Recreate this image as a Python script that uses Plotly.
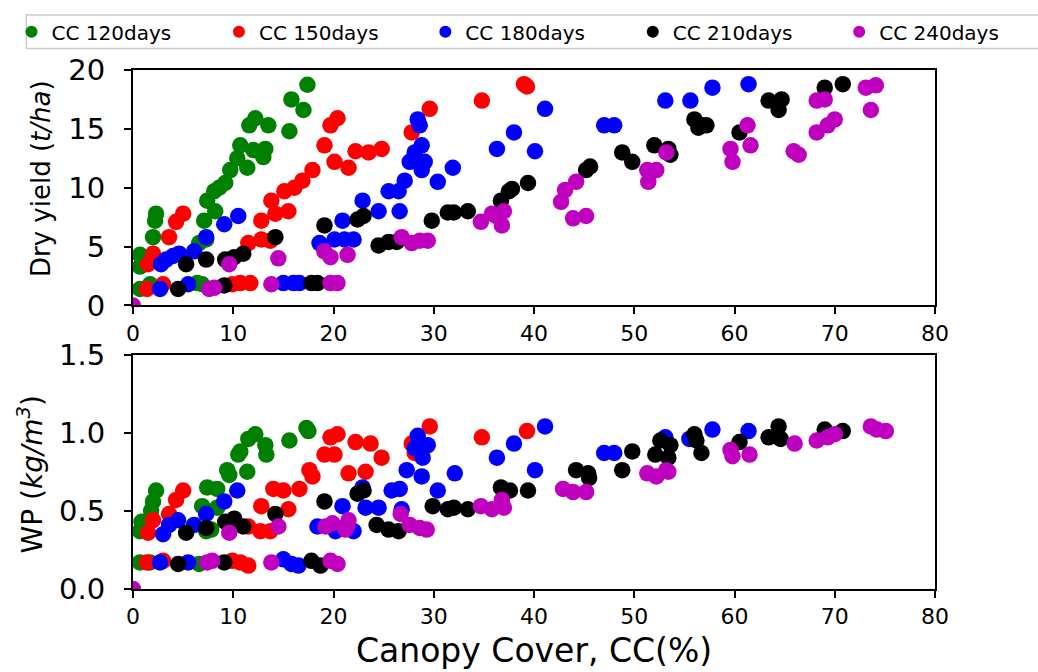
import plotly.graph_objects as go

# ---------------- data ----------------
series_names = ["CC 120days", "CC 150days", "CC 180days", "CC 210days", "CC 240days"]
series_colors = ["#008000", "#ff0000", "#0000ff", "#000000", "#bf00bf"]

# Top panel: canopy cover (%) vs dry yield (t/ha)
cc120_top = [0.7, 0.7, 0.7, 1.7, 2.0, 2.2, 2.3, 6.4, 6.9, 6.6, 7.3, 7.1, 8.2, 7.4, 8.1, 8.6, 9.2, 9.7, 10.4, 10.7, 11.4, 12.0, 13.0, 13.2, 11.6, 12.2, 13.5, 15.6, 15.8, 17.0, 17.4]
yield120 = [4.3, 3.3, 1.4, 1.8, 5.8, 7.2, 7.8, 1.9, 1.8, 5.3, 5.6, 7.2, 8.0, 8.9, 9.7, 10.0, 10.4, 11.5, 12.5, 13.6, 11.7, 13.2, 12.6, 13.3, 15.3, 15.9, 15.3, 14.8, 17.5, 16.6, 18.75]

cc150_top = [1.4, 1.5, 2.0, 3.0, 3.6, 4.3, 5.0, 9.9, 10.7, 11.7, 11.5, 12.8, 13.7, 12.8, 14.2, 15.5, 13.8, 15.1, 16.1, 16.9, 17.9, 19.1, 20.1, 21.5, 22.2, 23.5, 24.8, 19.7, 20.4, 27.8, 29.6, 34.8, 39.0, 39.3]
yield150 = [1.4, 3.5, 4.4, 1.8, 5.8, 7.1, 7.8, 1.8, 1.9, 1.9, 5.3, 5.6, 5.5, 7.2, 7.8, 8.0, 8.9, 9.7, 10.0, 10.6, 11.5, 13.6, 12.2, 11.7, 13.1, 13.0, 13.3, 15.3, 15.9, 14.7, 16.7, 17.4, 18.8, 18.6]

cc180_top = [2.7, 2.8, 3.3, 4.0, 4.6, 5.5, 6.1, 7.3, 9.1, 10.5, 15.0, 16.0, 16.6, 18.6, 20.1, 21.1, 22.0, 20.9, 22.9, 24.5, 26.6, 25.5, 26.5, 27.1, 27.6, 28.1, 28.8, 29.1, 28.8, 28.4, 28.6, 30.4, 31.9, 36.3, 38.0, 40.1, 41.1, 47.0, 48.0, 53.1, 55.6, 57.8, 61.4]
yield180 = [1.4, 3.5, 3.9, 4.2, 4.4, 1.8, 4.6, 5.8, 6.9, 7.6, 1.9, 1.9, 1.9, 5.3, 5.6, 5.6, 5.6, 7.2, 8.9, 8.0, 8.0, 9.7, 9.7, 10.6, 12.2, 13.0, 13.6, 12.2, 11.5, 15.8, 15.3, 10.5, 11.7, 13.3, 14.7, 13.1, 16.7, 15.3, 15.3, 17.4, 17.4, 18.5, 18.8]

cc210_top = [4.5, 5.3, 7.3, 9.1, 9.2, 10.1, 11.0, 14.2, 17.8, 18.4, 19.1, 22.4, 23.0, 24.5, 25.5, 26.3, 29.8, 31.4, 32.0, 33.4, 36.7, 37.5, 37.8, 39.4, 45.2, 45.6, 48.8, 49.8, 52.0, 53.4, 53.6, 56.0, 56.4, 56.7, 57.2, 60.5, 63.4, 64.7, 64.4, 69.0, 70.8]
yield210 = [1.4, 3.5, 3.9, 1.7, 3.9, 4.1, 4.4, 5.8, 1.9, 1.9, 6.8, 7.3, 7.6, 5.1, 5.4, 5.4, 7.2, 7.9, 7.9, 8.0, 8.9, 9.7, 9.9, 10.4, 11.5, 11.8, 13.0, 12.2, 13.6, 13.3, 12.8, 15.8, 15.1, 15.3, 15.3, 14.7, 17.4, 17.5, 16.6, 18.5, 18.8]

cc240_top = [0.0, 7.6, 8.1, 9.6, 13.8, 14.5, 19.1, 19.7, 21.4, 19.7, 20.4, 26.8, 27.8, 28.6, 29.4, 34.7, 35.8, 36.2, 37.0, 36.8, 42.7, 43.1, 44.2, 43.9, 45.2, 51.3, 52.2, 51.4, 53.2, 59.6, 59.8, 61.3, 61.6, 65.9, 66.4, 68.2, 69.0, 68.2, 69.3, 70.0, 73.6, 73.1, 74.1]
yield240 = [0.0, 1.4, 1.5, 3.5, 1.8, 4.0, 4.6, 4.1, 4.3, 1.9, 1.9, 5.8, 5.3, 5.5, 5.5, 7.1, 7.8, 7.6, 8.0, 6.8, 8.8, 9.8, 10.5, 7.4, 7.6, 11.5, 11.5, 10.5, 13.0, 13.3, 12.2, 15.3, 13.6, 13.1, 12.8, 17.4, 17.5, 14.7, 15.3, 15.8, 16.6, 18.5, 18.7]

# Bottom panel: canopy cover (%) vs water productivity (kg/m3)
cc120_bot = [0.7, 1.7, 0.85, 0.7, 1.8, 2.0, 2.3, 6.6, 7.3, 7.8, 6.9, 8.4, 7.4, 8.4, 9.4, 9.6, 10.5, 10.7, 11.4, 11.5, 12.2, 13.2, 13.3, 15.6, 17.3, 17.5]
wp120 = [0.17, 0.17, 0.43, 0.37, 0.50, 0.56, 0.63, 0.16, 0.37, 0.38, 0.53, 0.52, 0.65, 0.64, 0.76, 0.73, 0.86, 0.88, 0.75, 0.96, 0.99, 0.92, 0.86, 0.95, 1.03, 1.01]

cc150_bot = [1.4, 1.5, 2.0, 3.0, 3.6, 4.3, 5.0, 9.9, 10.7, 11.5, 11.5, 12.7, 13.7, 12.8, 15.5, 14.0, 15.0, 16.6, 17.6, 17.9, 19.1, 20.1, 19.7, 20.4, 21.5, 23.2, 22.2, 23.7, 24.8, 27.8, 28.1, 29.6, 34.8, 39.3]
wp150 = [0.17, 0.36, 0.44, 0.18, 0.48, 0.57, 0.63, 0.18, 0.17, 0.15, 0.40, 0.37, 0.37, 0.53, 0.51, 0.64, 0.63, 0.64, 0.76, 0.72, 0.86, 0.86, 0.97, 0.99, 0.74, 0.75, 0.94, 0.93, 0.84, 0.93, 0.87, 1.04, 0.97, 1.01]

cc180_bot = [2.7, 3.0, 3.6, 4.5, 5.5, 6.1, 7.3, 9.1, 10.4, 15.0, 15.8, 16.5, 18.4, 20.2, 22.0, 20.9, 22.9, 23.2, 24.5, 26.8, 25.8, 26.6, 27.3, 28.8, 28.4, 28.6, 28.1, 29.4, 28.9, 30.4, 32.1, 36.3, 38.0, 40.1, 41.1, 47.0, 48.0, 53.1, 55.5, 57.8, 61.4]
wp180 = [0.17, 0.35, 0.41, 0.44, 0.17, 0.41, 0.48, 0.56, 0.63, 0.19, 0.16, 0.15, 0.40, 0.37, 0.37, 0.53, 0.65, 0.52, 0.52, 0.51, 0.63, 0.64, 0.76, 0.72, 0.98, 0.93, 0.90, 0.92, 0.84, 0.63, 0.74, 0.84, 0.93, 0.76, 1.04, 0.87, 0.87, 0.97, 0.96, 1.02, 1.01]

cc210_bot = [4.5, 5.3, 7.3, 9.1, 9.2, 10.1, 11.0, 14.2, 17.8, 18.7, 19.1, 22.4, 23.0, 24.3, 25.5, 26.5, 29.9, 31.4, 32.0, 33.4, 36.7, 37.6, 39.4, 44.2, 45.4, 45.5, 48.8, 49.8, 52.1, 52.6, 53.4, 53.6, 56.0, 56.2, 56.7, 60.5, 63.4, 64.4, 64.6, 69.0, 70.8]
wp210 = [0.16, 0.36, 0.39, 0.17, 0.43, 0.45, 0.40, 0.48, 0.18, 0.15, 0.56, 0.61, 0.63, 0.41, 0.38, 0.37, 0.53, 0.51, 0.52, 0.51, 0.65, 0.63, 0.63, 0.76, 0.74, 0.71, 0.76, 0.88, 0.86, 0.95, 0.84, 0.92, 0.99, 0.95, 0.87, 0.94, 0.97, 1.04, 0.96, 1.02, 1.01]

cc240_bot = [0.0, 7.4, 7.9, 9.6, 13.8, 14.5, 19.7, 20.4, 19.2, 19.9, 21.4, 21.5, 21.2, 26.7, 27.6, 28.6, 29.3, 34.7, 35.8, 37.0, 36.8, 42.9, 43.9, 45.2, 51.3, 52.2, 53.2, 53.4, 59.6, 59.8, 61.5, 66.0, 68.2, 69.3, 70.0, 73.6, 74.2, 75.1]
wp240 = [0.0, 0.17, 0.18, 0.36, 0.17, 0.40, 0.18, 0.16, 0.40, 0.42, 0.41, 0.44, 0.38, 0.48, 0.41, 0.39, 0.38, 0.53, 0.51, 0.52, 0.57, 0.64, 0.62, 0.62, 0.74, 0.72, 0.76, 0.75, 0.89, 0.85, 0.86, 0.93, 0.95, 0.97, 0.99, 1.04, 1.02, 1.01]

x_ticks = [0, 10, 20, 30, 40, 50, 60, 70, 80]
yield_ticks = [0, 5, 10, 15, 20]
wp_ticks = [0.0, 0.5, 1.0, 1.5]
wp_ticktext = ["0.0", "0.5", "1.0", "1.5"]

top_x = [cc120_top, cc150_top, cc180_top, cc210_top, cc240_top]
top_y = [yield120, yield150, yield180, yield210, yield240]
bot_x = [cc120_bot, cc150_bot, cc180_bot, cc210_bot, cc240_bot]
bot_y = [wp120, wp150, wp180, wp210, wp240]

# ---------------- figure ----------------
FONT = "DejaVu Sans"
W, H = 1038, 672
ML, MR, MT, MB = 123, 103, 60, 83
PW = W - ML - MR
PH = H - MT - MB


def px_x(px):
    return (px - ML) / PW


def px_y(py):
    return (H - MB - py) / PH


legend_ids = ["legend", "legend2", "legend3", "legend4", "legend5"]
legend_marker_px = [28, 238, 447, 657, 866]

MS = 16.5
fig = go.Figure()
for i in range(5):
    fig.add_trace(go.Scatter(
        x=top_x[i], y=top_y[i], mode="markers", name=series_names[i],
        marker=dict(color=series_colors[i], size=MS, line=dict(width=0)),
        xaxis="x", yaxis="y", legendgroup=series_names[i], showlegend=True,
        legend=legend_ids[i]))
for i in range(5):
    fig.add_trace(go.Scatter(
        x=bot_x[i], y=bot_y[i], mode="markers", name=series_names[i],
        marker=dict(color=series_colors[i], size=MS, line=dict(width=0)),
        xaxis="x2", yaxis="y2", legendgroup=series_names[i], showlegend=False))

axis_common = dict(
    showline=True, linecolor="black", linewidth=2, mirror=True,
    ticks="outside", ticklen=7, tickwidth=2, tickcolor="black",
    showgrid=False, zeroline=False,
)

legend_layouts = {}
for i, lid in enumerate(legend_ids):
    legend_layouts[lid] = dict(
        orientation="h", x=px_x(legend_marker_px[i] - 28), xanchor="left",
        y=px_y(21), yanchor="middle",
        font=dict(size=20, family=FONT), itemsizing="constant",
        bgcolor="rgba(0,0,0,0)", borderwidth=0,
    )

fig.update_layout(
    width=W, height=H,
    margin=dict(l=ML, r=MR, t=MT, b=MB, pad=0),
    paper_bgcolor="white", plot_bgcolor="white",
    font=dict(family=FONT, color="black"),
    xaxis=dict(domain=[0, 1], range=[0, 80], anchor="y", tickvals=x_ticks,
               tickfont=dict(size=22, family=FONT), **axis_common),
    yaxis=dict(domain=[px_y(300), 1], range=[0, 20], anchor="x", tickvals=yield_ticks,
               tickfont=dict(size=29, family=FONT), ticklabelstandoff=13, **axis_common),
    xaxis2=dict(domain=[0, 1], range=[0, 80], anchor="y2", tickvals=x_ticks,
                tickfont=dict(size=22, family=FONT), **axis_common),
    yaxis2=dict(domain=[0, px_y(350)], range=[0, 1.5], anchor="x2", tickvals=wp_ticks,
                ticktext=wp_ticktext, tickfont=dict(size=29, family=FONT),
                ticklabelstandoff=13, **axis_common),
    showlegend=True,
    shapes=[dict(type="rect", xref="paper", yref="paper",
                 x0=px_x(15), x1=px_x(1046), y0=px_y(38), y1=px_y(4),
                 line=dict(color="#cccccc", width=1.5), fillcolor="rgba(0,0,0,0)")],
    annotations=[
        dict(text="Canopy Cover, CC(%)", xref="paper", yref="paper",
             x=px_x(529), y=px_y(652), xanchor="center", yanchor="middle",
             showarrow=False, font=dict(size=33, family=FONT)),
        dict(text="Dry yield (<i>t/ha</i>)", xref="paper", yref="paper",
             x=px_x(30), y=px_y(171), xanchor="center", yanchor="middle",
             textangle=-90, showarrow=False, font=dict(size=26, family=FONT)),
        dict(text="WP (<i>kg/m<sup>3</sup></i>)", xref="paper", yref="paper",
             x=px_x(19), y=px_y(472), xanchor="center", yanchor="middle",
             textangle=-90, showarrow=False, font=dict(size=28, family=FONT)),
    ],
    **legend_layouts,
)

fig.write_html("out.html")
